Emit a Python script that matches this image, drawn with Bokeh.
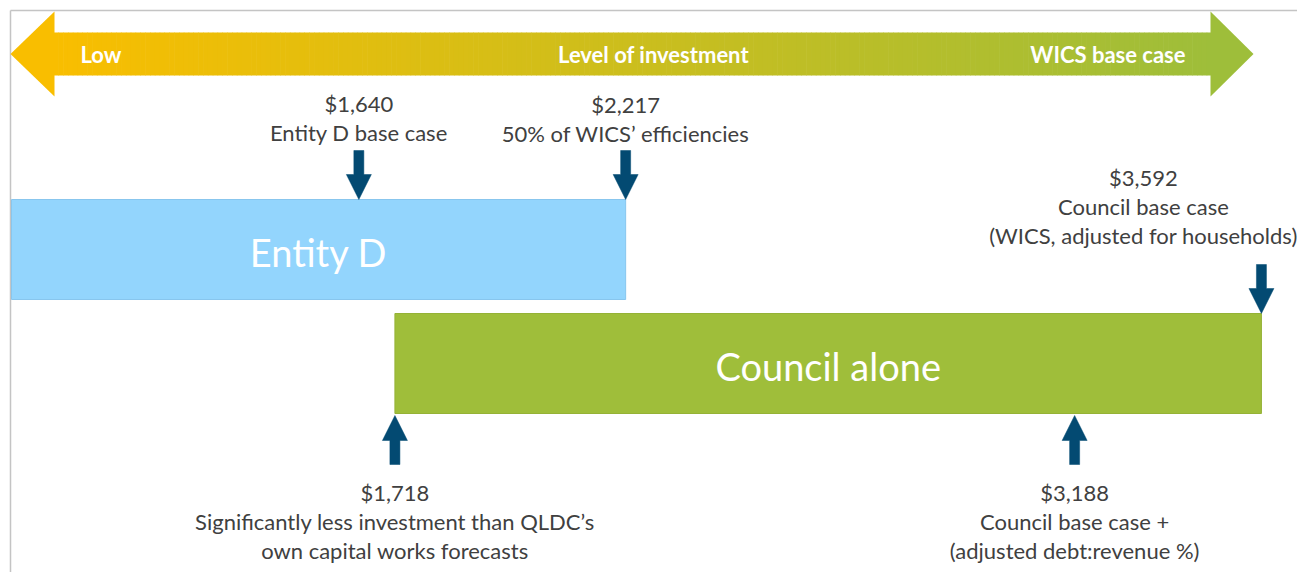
from bokeh.plotting import figure
from bokeh.models import Range1d
from bokeh.core.properties import value
from bokeh.embed import file_html
from bokeh.resources import INLINE

# ---------------- data ----------------
bar_names = ["Entity D", "Council alone"]
bar_start = [None, 1718]          # Entity D starts at the low end of the scale
bar_end = [2217, 3592]

marker_values = [1640, 2217, 3592, 1718, 3188]
marker_captions = [
    "Entity D base case",
    "50% of WICS\u2019 efficiencies",
    "Council base case\n(WICS, adjusted for households)",
    "Significantly less investment than QLDC\u2019s\nown capital works forecasts",
    "Council base case +\n(adjusted debt:revenue %)",
]
marker_bar = ["Entity D", "Entity D", "Council alone", "Council alone", "Council alone"]
marker_side = ["top", "top", "top", "bottom", "bottom"]

scale_labels = ["Low", "Level of investment", "WICS base case"]

# ---------------- layout / style ----------------
W, H = 1297, 572
X0, X1 = 865.0, 3670.0          # dollar range shown across the frame
K = W / (X1 - X0)               # px per dollar


def dx(px):
    """screen px -> data x"""
    return X0 + px / K


FONT = "Lato"
TEXT_COL = "#404040"
ARROW_COL = "#034A72"
bar_rows = {"Entity D": (199, 299), "Council alone": (313, 413)}
bar_fill = {"Entity D": "#93D5FD", "Council alone": "#9FBE3A"}
bar_line = {"Entity D": "#88C6EE", "Council alone": "#95B236"}
# per marker: label x offset (px), y of first label line
label_dx = [0, 0, -118, 0, 0]
label_y = [103, 104, 177, 492, 492]
LINE_GAP = 29

p = figure(width=W, height=H, x_range=Range1d(X0, X1), y_range=Range1d(H, 0),
           output_backend="svg", toolbar_location=None, min_border=0,
           min_border_left=0, min_border_right=0, min_border_top=0, min_border_bottom=0)
p.axis.visible = False
p.grid.visible = False
p.outline_line_color = None
p.background_fill_color = "white"

# frame lines (left and top)
p.line([dx(10), dx(10)], [10, H], line_color="#C4C4C4", line_width=1.5)
p.line([dx(10), dx(W)], [10, 10], line_color="#C4C4C4", line_width=1.5)

# ---------------- gradient double arrow ----------------
c0 = (0xF9, 0xBE, 0x00)
c1 = (0x9E, 0xBE, 0x3A)
body_l, body_r = 53, 1211
N = 240
lefts, rights, cols = [], [], []
for i in range(N):
    a = body_l + (body_r - body_l) * i / N
    b = body_l + (body_r - body_l) * (i + 1) / N
    t = (i + 0.5) / N
    c = tuple(int(round(c0[j] + (c1[j] - c0[j]) * t)) for j in range(3))
    lefts.append(dx(a))
    rights.append(dx(b + 0.6))
    cols.append("#%02x%02x%02x" % c)
p.quad(left=lefts, right=rights, top=[32] * N, bottom=[75] * N,
       fill_color=cols, line_color=None)
p.patch([dx(54), dx(10), dx(54)], [11, 53.5, 96], fill_color="#F9BE00", line_color=None)
p.patch([dx(1210), dx(1253), dx(1210)], [11, 53.5, 96], fill_color="#9EBE3A", line_color=None)

for xp, txt, al in [(80, scale_labels[0], "left"), (653, scale_labels[1], "center"),
                    (1185, scale_labels[2], "right")]:
    p.text(x=[dx(xp)], y=[54], text=[txt], text_font=value(FONT),
           text_font_style="bold", text_font_size="22px", text_color="white",
           text_align=al, text_baseline="middle")

# ---------------- bars ----------------
for name, s, e in zip(bar_names, bar_start, bar_end):
    top, bot = bar_rows[name]
    left = dx(11) if s is None else s
    p.quad(left=[left], right=[e], top=[top], bottom=[bot],
           fill_color=bar_fill[name], line_color=bar_line[name], line_width=1)
    p.text(x=[(left + e) / 2], y=[(top + bot) / 2 + 2], text=[name],
           text_font=value(FONT), text_font_size="38px", text_color="white",
           text_align="center", text_baseline="middle")

# ---------------- marker arrows + labels ----------------
SH, HH, HL, AL = 5, 12.5, 25, 49   # shaft half width, head half width, head length, total length
for i, (v, cap, bar, side) in enumerate(zip(marker_values, marker_captions, marker_bar, marker_side)):
    top, bot = bar_rows[bar]
    if side == "top":
        tip = top
        d = -1
    else:
        tip = bot + 2
        d = 1
    hb = tip + d * HL
    end = tip + d * AL
    xs = [v - SH / K, v + SH / K, v + SH / K, v + HH / K, v, v - HH / K, v - SH / K]
    ys = [end, end, hb, hb, tip, hb, hb]
    p.patch(xs, ys, fill_color=ARROW_COL, line_color=ARROW_COL, line_width=0.5)

    lines = ["${:,}".format(v)] + cap.split("\n")
    ly = [label_y[i] + LINE_GAP * j for j in range(len(lines))]
    p.text(x=[v] * len(lines), y=ly, text=lines, x_offset=label_dx[i],
           text_font=value(FONT), text_font_size="22px", text_color=TEXT_COL,
           text_align="center", text_baseline="middle")

open("out.html", "w").write(file_html(p, INLINE))
